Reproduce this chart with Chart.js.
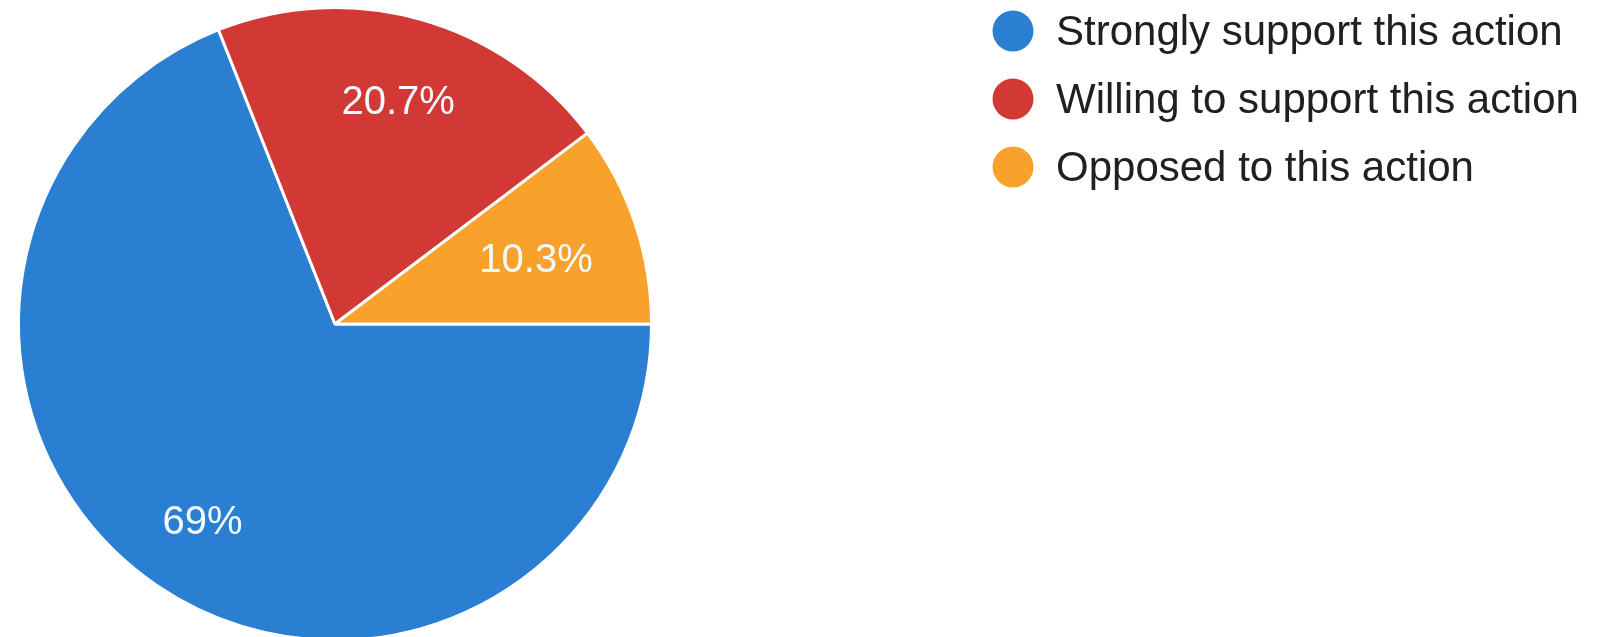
<!DOCTYPE html>
<html>
<head>
<meta charset="utf-8">
<script src="https://cdn.jsdelivr.net/npm/chart.js@4"></script>
<style>
html, body { margin: 0; padding: 0; background: #fff; overflow: hidden; }
#wrap { position: absolute; left: 0; top: 0; width: 1604px; height: 660px; }
</style>
</head>
<body>
<div id="wrap"><canvas id="pie"></canvas></div>
<script>
// data
const labels = ['Strongly support this action', 'Willing to support this action', 'Opposed to this action'];
const shares = [69, 20.7, 10.3];
const shareLabels = ['69%', '20.7%', '10.3%'];
const colors = ['#2a7fd2', '#d23834', '#f8a12b'];

// how far out (fraction of radius) each slice label sits
const labelRadius = [0.745, 0.74, 0.67];

const sliceLabels = {
    id: 'sliceLabels',
    afterDatasetsDraw(chart) {
        const ctx = chart.ctx;
        const arcs = chart.getDatasetMeta(0).data;
        ctx.save();
        ctx.font = '40px "Liberation Sans", Arial, sans-serif';
        ctx.fillStyle = '#f4f8ff';
        ctx.textAlign = 'center';
        ctx.textBaseline = 'middle';
        arcs.forEach((arc, i) => {
            const mid = (arc.startAngle + arc.endAngle) / 2;
            const r = arc.outerRadius * labelRadius[i];
            ctx.fillText(shareLabels[i], arc.x + Math.cos(mid) * r, arc.y + Math.sin(mid) * r + 4);
        });
        ctx.restore();
    }
};

const sideLegend = {
    id: 'sideLegend',
    afterDraw(chart) {
        const ctx = chart.ctx;
        const ds = chart.data.datasets[0];
        ctx.save();
        ctx.font = '42px "Liberation Sans", Arial, sans-serif';
        ctx.textBaseline = 'middle';
        chart.data.labels.forEach((lab, i) => {
            const y = 31 + i * 68;
            ctx.beginPath();
            ctx.arc(1013, y, 20.5, 0, Math.PI * 2);
            ctx.fillStyle = ds.backgroundColor[i];
            ctx.fill();
            ctx.fillStyle = '#202020';
            ctx.fillText(lab, 1056, y + 2);
        });
        ctx.restore();
    }
};

new Chart(document.getElementById('pie'), {
    type: 'pie',
    data: {
        labels: labels,
        datasets: [{
            data: shares,
            backgroundColor: colors,
            borderColor: '#ffffff',
            borderWidth: 3
        }]
    },
    options: {
        responsive: true,
        maintainAspectRatio: false,
        animation: false,
        rotation: 90,
        layout: {
            padding: { left: 17, right: 951, top: 6, bottom: 18 }
        },
        plugins: {
            legend: { display: false },
            tooltip: { enabled: false }
        }
    },
    plugins: [sliceLabels, sideLegend]
});
</script>
</body>
</html>
